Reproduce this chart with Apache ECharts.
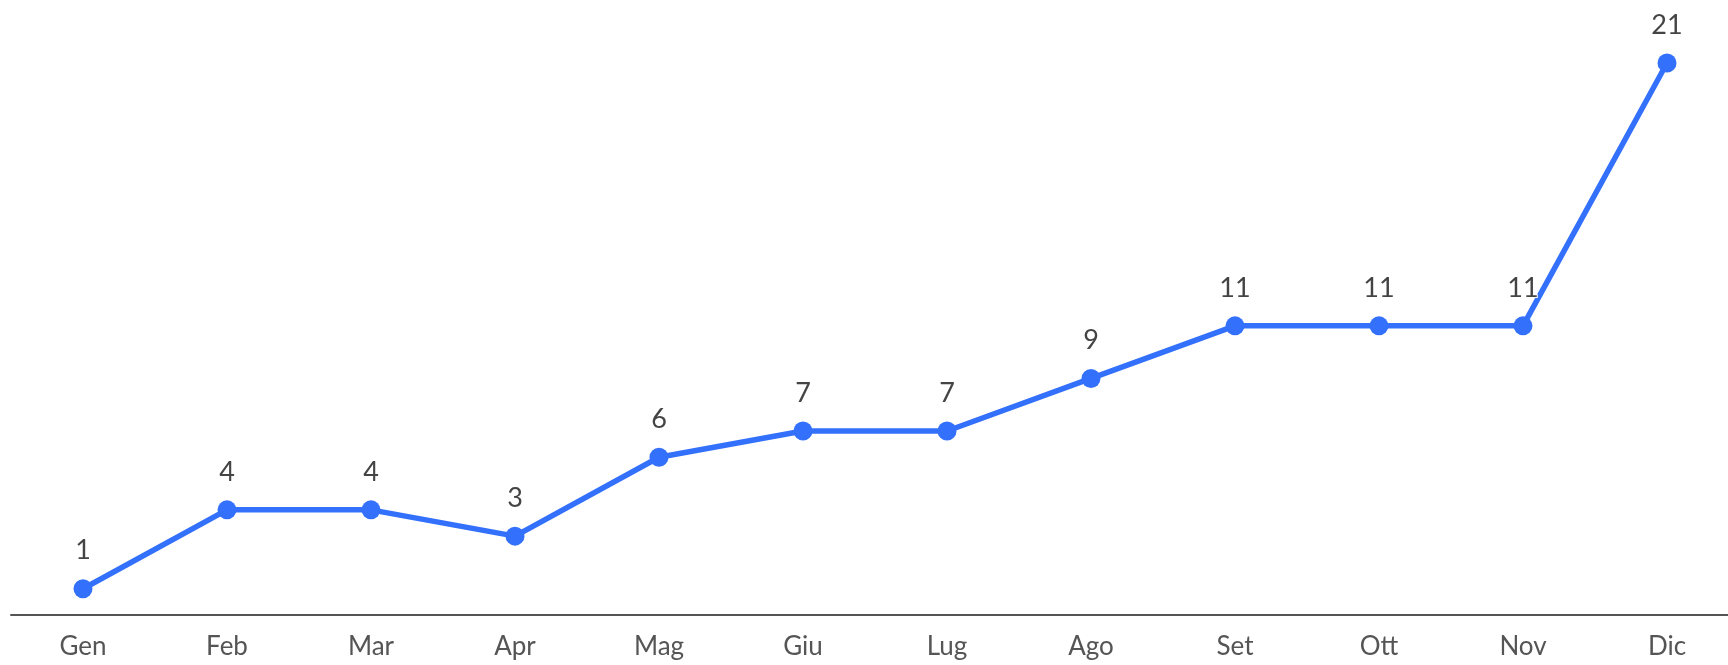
<!DOCTYPE html>
<html>
<head>
<meta charset="utf-8">
<script src="https://cdn.jsdelivr.net/npm/echarts@6/dist/echarts.min.js"></script>
<style>
html,body{margin:0;padding:0;background:#fff;}
#chart{width:1728px;height:665px;}
</style>
</head>
<body>
<div id="chart"></div>
<script>
const categories = ['Gen','Feb','Mar','Apr','Mag','Giu','Lug','Ago','Set','Ott','Nov','Dic'];
const values = [1,4,4,3,6,7,7,9,11,11,11,21];

const chart = echarts.init(document.getElementById('chart'));
chart.setOption({
  animation: false,
  grid: {left: 11, right: -11, top: 63, bottom: 50, containLabel: false, outerBoundsMode: 'none'},
  xAxis: {
    type: 'category',
    data: categories,
    boundaryGap: true,
    axisLine: {lineStyle: {color: '#555', width: 2}},
    axisTick: {show: false},
    axisLabel: {color: '#555', fontFamily: 'Lato', fontSize: 26, margin: 19}
  },
  yAxis: {
    type: 'value',
    min: 0,
    max: 21,
    show: false,
    splitLine: {show: false}
  },
  series: [{
    type: 'line',
    data: values,
    symbol: 'circle',
    symbolSize: 19,
    itemStyle: {color: '#3370fb'},
    lineStyle: {color: '#3370fb', width: 5.5},
    label: {
      show: true,
      position: 'top',
      distance: 15,
      color: '#444',
      fontFamily: 'Lato',
      fontSize: 27,
      textBorderColor: '#fff',
      textBorderWidth: 2
    }
  }]
});
</script>
</body>
</html>
